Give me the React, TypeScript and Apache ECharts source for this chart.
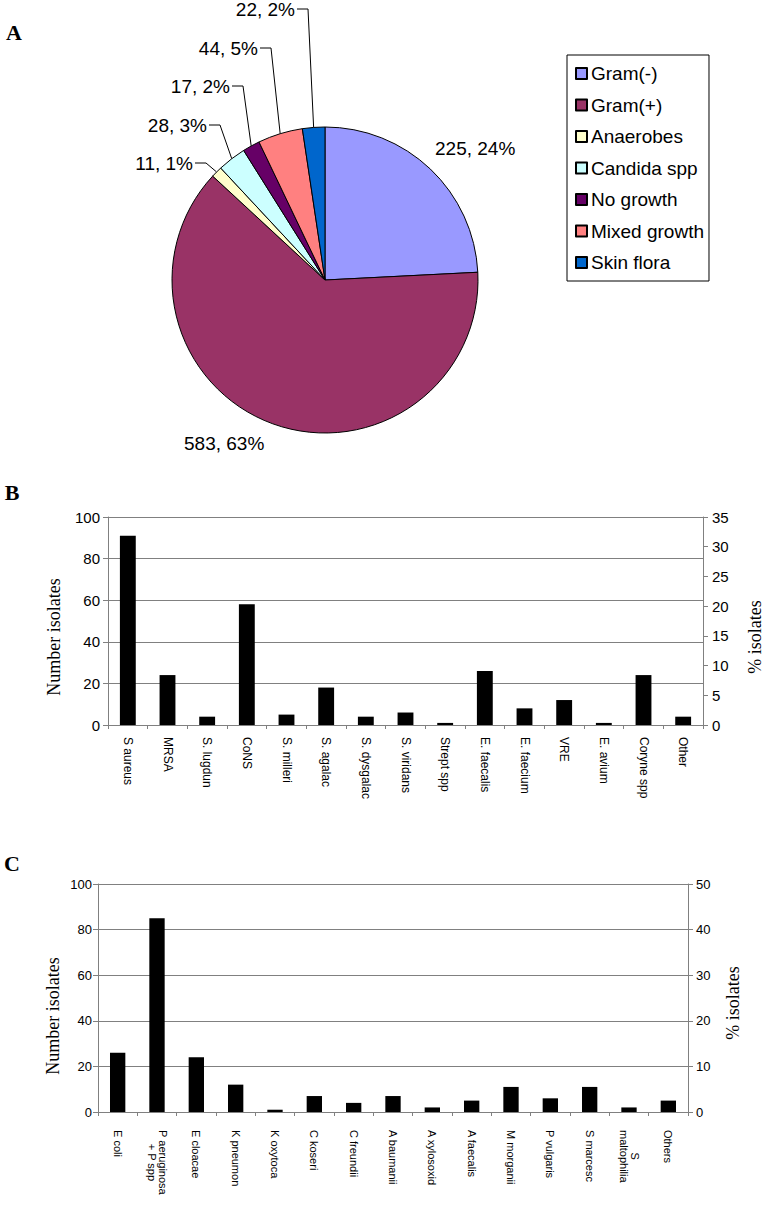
import React, { useEffect, useRef } from 'react';
import * as echarts from 'echarts';

// ---------- Data ----------
const pieCategories = ['Gram(-)', 'Gram(+)', 'Anaerobes', 'Candida spp', 'No growth', 'Mixed growth', 'Skin flora'];
const pieValues = [225, 583, 11, 28, 17, 44, 22];

const gramPosCategories = [
  'S aureus', 'MRSA', 'S. lugdun', 'CoNS', 'S. milleri', 'S. agalac', 'S. dysgalac', 'S. viridans',
  'Strept spp', 'E. faecalis', 'E. faecium', 'VRE', 'E. avium', 'Coryne spp', 'Other',
];
const gramPosCounts = [91, 24, 4, 58, 5, 18, 4, 6, 1, 26, 8, 12, 1, 24, 4];
const gramPosCountTicks = [0, 20, 40, 60, 80, 100];
const gramPosPctTicks = [0, 5, 10, 15, 20, 25, 30, 35];

const gramNegCategories = [
  'E coli', 'P aeruginosa\n+ P spp', 'E cloacae', 'K pneumon', 'K oxytoca', 'C koseri', 'C freundii',
  'A baumanii', 'A xylosoxid', 'A faecalis', 'M morganii', 'P vulgaris', 'S marcesc', 'S\nmaltophilia', 'Others',
];
const gramNegCounts = [26, 85, 24, 12, 1, 7, 4, 7, 2, 5, 11, 6, 11, 2, 5];
const gramNegCountTicks = [0, 20, 40, 60, 80, 100];
const gramNegPctTicks = [0, 10, 20, 30, 40, 50];

// ---------- Styles / layout ----------
const pieColors = ['#9999FF', '#993366', '#FFFFCC', '#CCFFFF', '#660066', '#FF8080', '#0066CC'];
const SANS = '"Liberation Sans", Arial, sans-serif';
const SERIF = '"Liberation Serif", "Times New Roman", serif';
const GRAY = '#808080';
const PIE_CENTER = [325, 280];
const PIE_RADIUS = 153;
const pieLabelPlacement = [
  { x: 435, y: 148, align: 'left' },
  { x: 184, y: 443, align: 'left' },
  { x: 193, y: 163, align: 'right' },
  { x: 207, y: 125, align: 'right' },
  { x: 230, y: 86, align: 'right' },
  { x: 258, y: 48, align: 'right' },
  { x: 295, y: 9, align: 'right' },
];

function sliceEdgePoint(idx: number): number[] {
  const total = pieValues.reduce((a, b) => a + b, 0);
  let cum = 0;
  for (let i = 0; i < idx; i++) cum += pieValues[i];
  const mid = ((cum + pieValues[idx] / 2) / total) * Math.PI * 2;
  return [PIE_CENTER[0] + PIE_RADIUS * Math.sin(mid), PIE_CENTER[1] - PIE_RADIUS * Math.cos(mid)];
}

function countAxis(gridIndex: number, ticks: number[], fontSize: number, margin: number) {
  return {
    type: 'value',
    gridIndex,
    position: 'left',
    min: ticks[0],
    max: ticks[ticks.length - 1],
    interval: ticks[1] - ticks[0],
    axisLine: { show: true, lineStyle: { color: GRAY, width: 1 } },
    axisTick: { show: true, length: 5, lineStyle: { color: GRAY } },
    axisLabel: { fontSize, fontFamily: SANS, color: '#000', margin },
    splitLine: { show: true, lineStyle: { color: GRAY, width: 1.2 } },
  };
}

function pctAxis(gridIndex: number, ticks: number[], fontSize: number, margin: number) {
  return {
    type: 'value',
    gridIndex,
    position: 'right',
    min: ticks[0],
    max: ticks[ticks.length - 1],
    interval: ticks[1] - ticks[0],
    axisLine: { show: true, lineStyle: { color: GRAY, width: 1 } },
    axisTick: { show: true, length: 5, lineStyle: { color: GRAY } },
    axisLabel: { fontSize, fontFamily: SANS, color: '#000', margin },
    splitLine: { show: false },
  };
}

function catAxis(gridIndex: number, data: string[], fontSize: number, margin: number) {
  return {
    type: 'category',
    gridIndex,
    data,
    boundaryGap: true,
    axisLine: { show: true, lineStyle: { color: GRAY, width: 1 } },
    axisTick: { show: true, length: 4, interval: 0, alignWithLabel: false, lineStyle: { color: GRAY } },
    axisLabel: {
      rotate: -90,
      interval: 0,
      fontSize,
      fontFamily: SANS,
      color: '#000',
      margin,
      formatter: (v: string) =>
        v.includes('\n') ? v.split('\n').map((s) => `{c|${s}}`).join('\n') : v,
      rich: { c: { align: 'center', fontSize, fontFamily: SANS, color: '#000' } },
    },
    splitLine: { show: false },
  };
}

function txt(text: string, x: number, y: number, font: string, rotate = false) {
  return {
    type: 'text',
    x,
    y,
    rotation: rotate ? Math.PI / 2 : 0,
    silent: true,
    style: {
      text,
      font,
      fill: '#000',
      textAlign: 'center',
      textVerticalAlign: 'middle',
      align: 'center',
      verticalAlign: 'middle',
    },
  };
}

export default function App() {
  const ref = useRef<HTMLDivElement>(null);

  useEffect(() => {
    if (!ref.current) return;
    const chart = echarts.init(ref.current, null, { renderer: 'svg' });
    const option: any = {
      animation: false,
      backgroundColor: '#fff',
      legend: {
        orient: 'vertical',
        left: 567,
        top: 55,
        padding: [9, 5, 9, 8],
        itemGap: 12.5,
        itemWidth: 11,
        itemHeight: 11,
        icon: 'rect',
        borderColor: '#000',
        borderWidth: 1,
        selectedMode: false,
        data: pieCategories,
        textStyle: { fontSize: 19, fontFamily: SANS, color: '#000', padding: [0, 0, 0, -1] },
      },
      grid: [
        { left: 108, right: 74, top: 517, bottom: 491, containLabel: false },
        { left: 98, right: 89, top: 884, bottom: 104, containLabel: false },
      ],
      xAxis: [
        catAxis(0, gramPosCategories, 12, 12),
        catAxis(1, gramNegCategories, 11, 18),
      ],
      yAxis: [
        countAxis(0, gramPosCountTicks, 15, 8),
        pctAxis(0, gramPosPctTicks, 15, 9),
        countAxis(1, gramNegCountTicks, 13, 6),
        pctAxis(1, gramNegPctTicks, 13, 8),
      ],
      series: [
        {
          type: 'pie',
          center: PIE_CENTER,
          radius: PIE_RADIUS,
          startAngle: 90,
          clockwise: true,
          avoidLabelOverlap: false,
          percentPrecision: 0,
          emphasis: { disabled: true },
          itemStyle: { borderColor: '#000', borderWidth: 1 },
          label: {
            show: true,
            position: 'outside',
            formatter: '{c}, {d}%',
            fontSize: 19,
            fontFamily: SANS,
            color: '#000',
          },
          labelLine: { show: true, length: 10, length2: 10, lineStyle: { color: '#000', width: 1 } },
          data: pieCategories.map((name, i) => ({
            name,
            value: pieValues[i],
            itemStyle: { color: pieColors[i] },
            labelLine: { show: i >= 2 },
          })),
          labelLayout: (params: any) => {
            const idx = params.dataIndex;
            const p = pieLabelPlacement[idx];
            const out: any = { x: p.x, y: p.y, align: p.align, verticalAlign: 'middle' };
            if (idx >= 2) {
              out.labelLinePoints = [sliceEdgePoint(idx), [p.x + 13, p.y], [p.x + 2, p.y]];
            }
            return out;
          },
        },
        {
          type: 'bar',
          xAxisIndex: 0,
          yAxisIndex: 0,
          data: gramPosCounts,
          barWidth: '40%',
          itemStyle: { color: '#000' },
          emphasis: { disabled: true },
        },
        {
          type: 'bar',
          xAxisIndex: 1,
          yAxisIndex: 2,
          data: gramNegCounts,
          barWidth: '39%',
          itemStyle: { color: '#000' },
          emphasis: { disabled: true },
        },
      ],
      graphic: [
        txt('A', 14, 32, `bold 22px ${SERIF}`),
        txt('B', 12, 492, `bold 22px ${SERIF}`),
        txt('C', 12, 863, `bold 22px ${SERIF}`),
        txt('Number isolates', 54, 637, `18px ${SERIF}`, true),
        txt('% isolates', 755, 637, `18px ${SERIF}`, true),
        txt('Number isolates', 53, 1016, `18px ${SERIF}`, true),
        txt('% isolates', 733, 1003, `18px ${SERIF}`, true),
      ],
    };
    chart.setOption(option);
    return () => chart.dispose();
  }, []);

  return (
    <div
      ref={ref}
      style={{ position: 'absolute', left: 0, top: 0, width: 777, height: 1216, background: '#fff' }}
    />
  );
}
